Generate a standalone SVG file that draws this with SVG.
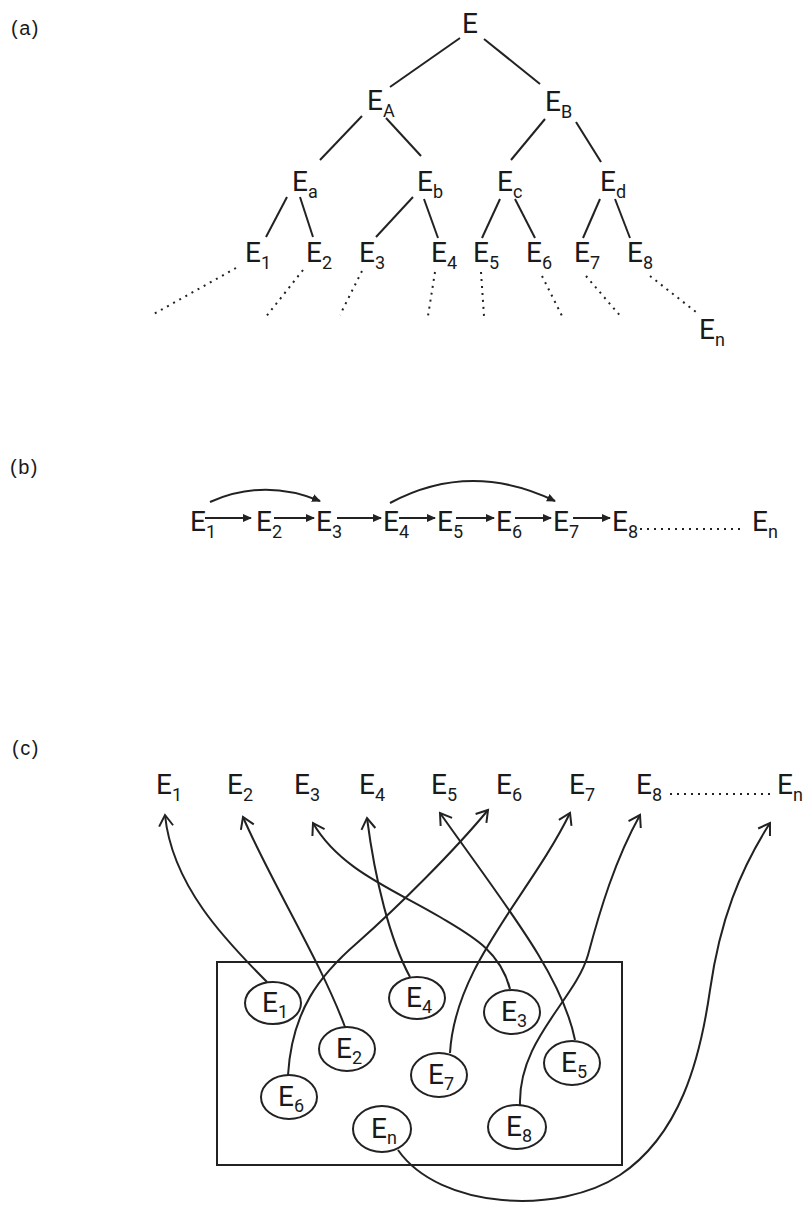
<svg xmlns="http://www.w3.org/2000/svg" width="806" height="1209" viewBox="0 0 806 1209">
<style>
text{font-family:Roboto,"Liberation Sans","DejaVu Sans",sans-serif;fill:#1a1a1a}
.n{font-size:28px;font-weight:400}
.s{font-size:18px;font-weight:400}
.lab{font-size:20px;font-family:"Liberation Sans",sans-serif;letter-spacing:1.5px}
.ln{stroke:#222;stroke-width:2;fill:none}
.dot{stroke:#222;stroke-width:2;fill:none;stroke-dasharray:2 5}
.ell{stroke:#222;stroke-width:2;fill:#fff}
.box{stroke:#222;stroke-width:2;fill:none}
</style>
<defs>
<marker id="fa" markerWidth="10" markerHeight="10" refX="8" refY="5" orient="auto" markerUnits="userSpaceOnUse">
<path d="M0,1 L9,5 L0,9 Z" fill="#222"/>
</marker>
<marker id="oa" markerWidth="20" markerHeight="20" refX="15" refY="10" orient="auto" markerUnits="userSpaceOnUse">
<path d="M4,3 L15,10 L4,17" fill="none" stroke="#222" stroke-width="2"/>
</marker>
</defs>
<g id="labels">
<text class="lab" x="11" y="35">(a)</text>
<text class="lab" x="10" y="474">(b)</text>
<text class="lab" x="12" y="755">(c)</text>
</g>
<g id="tree-connectors">
<line class="ln" x1="460" y1="38" x2="390" y2="87"/>
<line class="ln" x1="484" y1="39" x2="540" y2="84"/>
<line class="ln" x1="362" y1="116" x2="320" y2="160"/>
<line class="ln" x1="386" y1="118" x2="421" y2="156"/>
<line class="ln" x1="545" y1="119" x2="511" y2="160"/>
<line class="ln" x1="576" y1="122" x2="601" y2="162"/>
<line class="ln" x1="287" y1="197" x2="266" y2="237"/>
<line class="ln" x1="300" y1="197" x2="313" y2="237"/>
<line class="ln" x1="413" y1="197" x2="376" y2="237"/>
<line class="ln" x1="424" y1="199" x2="438" y2="238"/>
<line class="ln" x1="500" y1="199" x2="482" y2="238"/>
<line class="ln" x1="515" y1="199" x2="535" y2="238"/>
<line class="ln" x1="600" y1="199" x2="583" y2="238"/>
<line class="ln" x1="615" y1="199" x2="630" y2="238"/>
<line class="dot" x1="236" y1="268" x2="152" y2="315"/>
<line class="dot" x1="303" y1="270" x2="265" y2="318"/>
<line class="dot" x1="362" y1="271" x2="340" y2="315"/>
<line class="dot" x1="435" y1="272" x2="428" y2="316"/>
<line class="dot" x1="481" y1="272" x2="484" y2="316"/>
<line class="dot" x1="542" y1="276" x2="563" y2="318"/>
<line class="dot" x1="586" y1="276" x2="622" y2="318"/>
<line class="dot" x1="650" y1="276" x2="696" y2="312"/>
</g>
<g id="tree-nodes">
<text class="n" x="462" y="33">E</text>
<text class="n" x="367" y="110">E<tspan class="s" dy="7">A</tspan></text>
<text class="n" x="545" y="111">E<tspan class="s" dy="7">B</tspan></text>
<text class="n" x="292" y="191">E<tspan class="s" dy="7">a</tspan></text>
<text class="n" x="417" y="191">E<tspan class="s" dy="7">b</tspan></text>
<text class="n" x="497" y="191">E<tspan class="s" dy="7">c</tspan></text>
<text class="n" x="600" y="191">E<tspan class="s" dy="7">d</tspan></text>
<text class="n" x="245" y="262">E<tspan class="s" dy="7">1</tspan></text>
<text class="n" x="306" y="262">E<tspan class="s" dy="7">2</tspan></text>
<text class="n" x="359" y="262">E<tspan class="s" dy="7">3</tspan></text>
<text class="n" x="431" y="262">E<tspan class="s" dy="7">4</tspan></text>
<text class="n" x="473" y="262">E<tspan class="s" dy="7">5</tspan></text>
<text class="n" x="526" y="262">E<tspan class="s" dy="7">6</tspan></text>
<text class="n" x="574" y="262">E<tspan class="s" dy="7">7</tspan></text>
<text class="n" x="627" y="262">E<tspan class="s" dy="7">8</tspan></text>
<text class="n" x="699" y="339">E<tspan class="s" dy="7">n</tspan></text>
</g>
<g id="chain-connectors">
<line class="ln" x1="205" y1="518" x2="251" y2="518" marker-end="url(#fa)"/>
<line class="ln" x1="274" y1="518" x2="314" y2="518" marker-end="url(#fa)"/>
<line class="ln" x1="337" y1="518" x2="381" y2="518" marker-end="url(#fa)"/>
<line class="ln" x1="399" y1="518" x2="435" y2="518" marker-end="url(#fa)"/>
<line class="ln" x1="456" y1="518" x2="494" y2="518" marker-end="url(#fa)"/>
<line class="ln" x1="515" y1="518" x2="551" y2="518" marker-end="url(#fa)"/>
<line class="ln" x1="573" y1="518" x2="610" y2="518" marker-end="url(#fa)"/>
<line class="dot" x1="640" y1="529" x2="744" y2="529"/>
<path class="ln" d="M210,502 Q264,478 320,501" marker-end="url(#fa)"/>
<path class="ln" d="M390,503 Q470,460 555,501" marker-end="url(#fa)"/>
</g>
<g id="chain-nodes">
<text class="n" x="190" y="531">E<tspan class="s" dy="7">1</tspan></text>
<text class="n" x="256" y="531">E<tspan class="s" dy="7">2</tspan></text>
<text class="n" x="316" y="531">E<tspan class="s" dy="7">3</tspan></text>
<text class="n" x="383" y="531">E<tspan class="s" dy="7">4</tspan></text>
<text class="n" x="437" y="531">E<tspan class="s" dy="7">5</tspan></text>
<text class="n" x="496" y="531">E<tspan class="s" dy="7">6</tspan></text>
<text class="n" x="553" y="531">E<tspan class="s" dy="7">7</tspan></text>
<text class="n" x="612" y="531">E<tspan class="s" dy="7">8</tspan></text>
<text class="n" x="752" y="531">E<tspan class="s" dy="7">n</tspan></text>
</g>
<g id="c-targets">
<text class="n" x="156" y="794">E<tspan class="s" dy="7">1</tspan></text>
<text class="n" x="227" y="794">E<tspan class="s" dy="7">2</tspan></text>
<text class="n" x="294" y="794">E<tspan class="s" dy="7">3</tspan></text>
<text class="n" x="359" y="794">E<tspan class="s" dy="7">4</tspan></text>
<text class="n" x="431" y="794">E<tspan class="s" dy="7">5</tspan></text>
<text class="n" x="496" y="794">E<tspan class="s" dy="7">6</tspan></text>
<text class="n" x="569" y="794">E<tspan class="s" dy="7">7</tspan></text>
<text class="n" x="636" y="794">E<tspan class="s" dy="7">8</tspan></text>
<line class="dot" x1="670" y1="794" x2="774" y2="794"/>
<text class="n" x="777" y="794">E<tspan class="s" dy="7">n</tspan></text>
</g>
<rect id="set-box" class="box" x="217" y="962" width="405" height="203"/>
<g id="c-connectors">
<path class="ln" d="M267,982 C225,940 172,885 165,815" marker-end="url(#oa)"/>
<path class="ln" d="M345,1027 C320,960 270,880 243,817" marker-end="url(#oa)"/>
<path class="ln" d="M288,1075 C292,1010 320,975 357,943 C400,905 455,850 488,810" marker-end="url(#oa)"/>
<path class="ln" d="M410,977 C390,940 375,880 367,818" marker-end="url(#oa)"/>
<path class="ln" d="M510,989 C500,950 470,935 440,917 C395,890 340,870 313,823" marker-end="url(#oa)"/>
<path class="ln" d="M575,1040 C562,975 505,905 440,813" marker-end="url(#oa)"/>
<path class="ln" d="M450,1053 C455,965 530,895 570,813" marker-end="url(#oa)"/>
<path class="ln" d="M520,1105 C518,1040 575,1000 588,955 C600,910 615,860 640,815" marker-end="url(#oa)"/>
<path class="ln" d="M398,1150 C440,1210 560,1215 620,1175 C680,1135 700,1060 710,990 C720,920 740,870 770,823" marker-end="url(#oa)"/>
</g>
<g id="c-E1"><ellipse class="ell" cx="273" cy="1003" rx="28" ry="21"/><text class="n" x="262" y="1012">E<tspan class="s" dy="6">1</tspan></text></g>
<g id="c-E4"><ellipse class="ell" cx="417" cy="998" rx="28" ry="21"/><text class="n" x="406" y="1007">E<tspan class="s" dy="6">4</tspan></text></g>
<g id="c-E3"><ellipse class="ell" cx="512" cy="1012" rx="28" ry="22"/><text class="n" x="501" y="1021">E<tspan class="s" dy="6">3</tspan></text></g>
<g id="c-E2"><ellipse class="ell" cx="347" cy="1049" rx="28" ry="22"/><text class="n" x="336" y="1058">E<tspan class="s" dy="6">2</tspan></text></g>
<g id="c-E7"><ellipse class="ell" cx="439" cy="1075" rx="28" ry="22"/><text class="n" x="428" y="1084">E<tspan class="s" dy="6">7</tspan></text></g>
<g id="c-E5"><ellipse class="ell" cx="572" cy="1063" rx="28" ry="22"/><text class="n" x="561" y="1072">E<tspan class="s" dy="6">5</tspan></text></g>
<g id="c-E6"><ellipse class="ell" cx="289" cy="1097" rx="28" ry="22"/><text class="n" x="278" y="1106">E<tspan class="s" dy="6">6</tspan></text></g>
<g id="c-En"><ellipse class="ell" cx="382" cy="1129" rx="29" ry="23"/><text class="n" x="371" y="1138">E<tspan class="s" dy="6">n</tspan></text></g>
<g id="c-E8"><ellipse class="ell" cx="517" cy="1127" rx="29" ry="22"/><text class="n" x="506" y="1136">E<tspan class="s" dy="6">8</tspan></text></g>
</svg>
